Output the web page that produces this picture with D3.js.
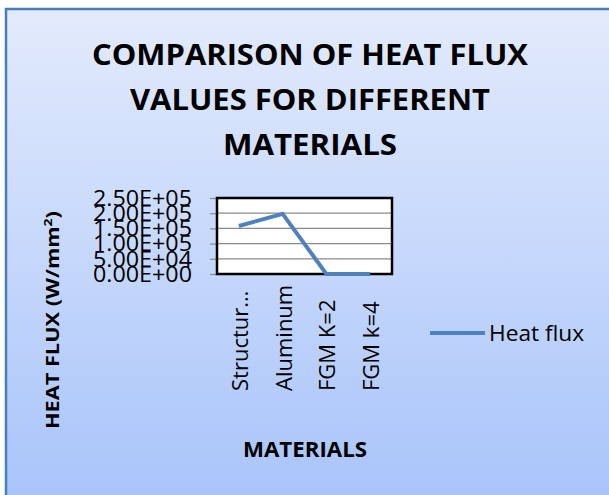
<!DOCTYPE html>
<html>
<head>
<meta charset="utf-8">
<script src="https://cdn.jsdelivr.net/npm/d3@7"></script>
<style>
  html, body { margin: 0; padding: 0; background: #fff; }
  svg { display: block; }
</style>
</head>
<body>
<div id="chartContainer"></div>
<script>
// Chart data
const materials = ["Structural steel", "Aluminum", "FGM K=2", "FGM k=4"];
const materialLabels = ["Structur…", "Aluminum", "FGM K=2", "FGM k=4"];
const heatFlux = [158000, 198000, 0, 0];
const yTicks = [0, 50000, 100000, 150000, 200000, 250000];
const yTickLabels = ["0.00E+00", "5.00E+04", "1.00E+05", "1.50E+05", "2.00E+05", "2.50E+05"];
const titleLines = ["COMPARISON OF HEAT FLUX", "VALUES FOR DIFFERENT", "MATERIALS"];
const seriesName = "Heat flux";

function createChart() {
    const width = 609;
    const height = 495;
    const font = "'Open Sans', 'DejaVu Sans', sans-serif";
    const blue = "#4f81bd";

    // Plot area box
    const plot = { left: 217, right: 392, top: 198, bottom: 274 };

    const svg = d3.create("svg")
        .attr("width", width)
        .attr("height", height)
        .style("font-family", font);

    // Background gradient of the chart frame
    const grad = svg.append("defs").append("linearGradient")
        .attr("id", "bg")
        .attr("x1", 0).attr("y1", 0).attr("x2", 0).attr("y2", 1);
    grad.append("stop").attr("offset", 0).attr("stop-color", "#e3ebfc");
    grad.append("stop").attr("offset", 1).attr("stop-color", "#a5c2fa");

    svg.append("rect")
        .attr("x", 6).attr("y", 9)
        .attr("width", 640).attr("height", 520)
        .attr("fill", "url(#bg)")
        .attr("stroke", "#4a7ebb")
        .attr("stroke-width", 2.5);

    // Title
    svg.append("g")
        .selectAll("text")
        .data(titleLines)
        .join("text")
        .attr("x", 310)
        .attr("y", (d, i) => 65 + i * 45)
        .attr("text-anchor", "middle")
        .attr("font-weight", "bold")
        .attr("font-size", 28)
        .attr("textLength", (d, i) => [436, 360, 174][i])
        .attr("lengthAdjust", "spacingAndGlyphs")
        .text(d => d);

    // Scales
    const x = d3.scalePoint()
        .domain(materials)
        .range([plot.left, plot.right])
        .padding(0.5);

    const y = d3.scaleLinear()
        .domain([0, 250000])
        .range([plot.bottom, plot.top]);

    // Plot background
    svg.append("rect")
        .attr("x", plot.left).attr("y", plot.top)
        .attr("width", plot.right - plot.left)
        .attr("height", plot.bottom - plot.top)
        .attr("fill", "#fff");

    // Gridlines
    svg.append("g")
        .selectAll("line")
        .data(yTicks)
        .join("line")
        .attr("x1", plot.left).attr("x2", plot.right)
        .attr("y1", d => y(d)).attr("y2", d => y(d))
        .attr("stroke", "#8a8a8a")
        .attr("stroke-width", 1.2);

    // Y axis with ticks and labels
    const yAxis = svg.append("g")
        .attr("transform", `translate(${plot.left},0)`)
        .call(d3.axisLeft(y)
            .tickValues(yTicks)
            .tickSize(7)
            .tickPadding(18)
            .tickFormat((d, i) => yTickLabels[i]));
    yAxis.select(".domain").remove();
    yAxis.selectAll("line").attr("stroke", "#8a8a8a").attr("stroke-width", 1.2);
    yAxis.selectAll("text")
        .attr("font-family", font)
        .attr("font-size", 22)
        .attr("fill", "#000")
        .attr("dy", "0.33em")
        .attr("textLength", 99)
        .attr("lengthAdjust", "spacingAndGlyphs");

    // Plot border
    svg.append("rect")
        .attr("x", plot.left).attr("y", plot.top)
        .attr("width", plot.right - plot.left)
        .attr("height", plot.bottom - plot.top)
        .attr("fill", "none")
        .attr("stroke", "#000")
        .attr("stroke-width", 2.5);

    // Category labels, rotated
    svg.append("g")
        .selectAll("text")
        .data(materials)
        .join("text")
        .attr("transform", d => `translate(${x(d) + 9},391) rotate(-90)`)
        .attr("font-size", 22)
        .text((d, i) => materialLabels[i]);

    // Series line
    const line = d3.line()
        .x((d, i) => x(materials[i]))
        .y(d => y(d));

    svg.append("path")
        .datum(heatFlux)
        .attr("d", line)
        .attr("fill", "none")
        .attr("stroke", blue)
        .attr("stroke-width", 4)
        .attr("stroke-linejoin", "round");

    // Axis titles
    const yTitle = svg.append("text")
        .attr("transform", "translate(59,320) rotate(-90)")
        .attr("text-anchor", "middle")
        .attr("font-weight", "bold")
        .attr("font-size", 17)
        .attr("textLength", 218)
        .attr("lengthAdjust", "spacingAndGlyphs");
    yTitle.append("tspan").text("HEAT FLUX (W/mm");
    yTitle.append("tspan").attr("font-size", 11).attr("dy", -7).text("2");
    yTitle.append("tspan").attr("dy", 7).text(")");

    svg.append("text")
        .attr("x", 305).attr("y", 457)
        .attr("text-anchor", "middle")
        .attr("font-weight", "bold")
        .attr("font-size", 22)
        .attr("textLength", 124)
        .attr("lengthAdjust", "spacingAndGlyphs")
        .text("MATERIALS");

    // Legend
    const legend = svg.append("g");
    legend.append("line")
        .attr("x1", 430).attr("x2", 485)
        .attr("y1", 333).attr("y2", 333)
        .attr("stroke", blue)
        .attr("stroke-width", 4);
    legend.append("text")
        .attr("x", 489).attr("y", 341)
        .attr("font-size", 22)
        .attr("textLength", 95)
        .attr("lengthAdjust", "spacingAndGlyphs")
        .text(seriesName);

    return svg.node();
}

document.getElementById("chartContainer").appendChild(createChart());
</script>
</body>
</html>
